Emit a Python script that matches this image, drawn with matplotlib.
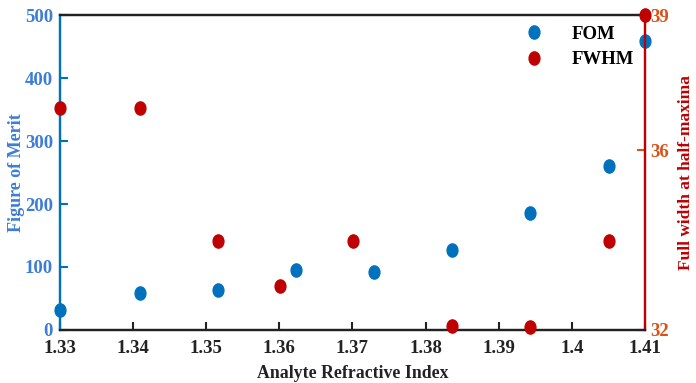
import numpy as np
import matplotlib
matplotlib.use('Agg')
import matplotlib.pyplot as plt
from matplotlib.markers import MarkerStyle
from matplotlib.transforms import Affine2D

# data
ri_fom = [1.33, 1.3409, 1.3516, 1.3623, 1.373, 1.3836, 1.3943, 1.4051, 1.41]
fom = [32, 58, 63, 95, 92, 127, 186, 260, 459]
ri_fwhm = [1.33, 1.3409, 1.3516, 1.3601, 1.3701, 1.3836, 1.3943, 1.4051, 1.41]
fwhm = [36.93, 36.93, 33.98, 32.98, 33.98, 32.08, 32.07, 33.98, 39]

xticks = [1.33, 1.34, 1.35, 1.36, 1.37, 1.38, 1.39, 1.4, 1.41]
xticklabels = ['1.33', '1.34', '1.35', '1.36', '1.37', '1.38', '1.39', '1.4', '1.41']
left_ticks = [0, 100, 200, 300, 400, 500]
right_ticks = [32, 36, 39]

blue = '#0072BD'
blue_lbl = '#3D7DD6'
red = '#C00000'
orange = '#D95319'

plt.rcParams['font.family'] = ['Liberation Serif', 'DejaVu Serif']
plt.rcParams['font.weight'] = 'bold'

fig = plt.figure(figsize=(6.96, 3.83), dpi=100)
ax1 = fig.add_axes([0.0862, 0.1384, 0.9267 - 0.0862, 0.9608 - 0.1384])
ax2 = ax1.twinx()

oval = MarkerStyle('o', transform=Affine2D().scale(0.82, 1.0))
h1, = ax1.plot(ri_fom, fom, linestyle='none', marker=oval, color=blue, ms=9.5,
               clip_on=False, zorder=3, label='FOM')
h2, = ax2.plot(ri_fwhm, fwhm, linestyle='none', marker=oval, color=red, ms=9.5,
               clip_on=False, zorder=3, label='FWHM')

ax1.set_xlim(1.33, 1.41)
ax1.set_ylim(0, 500)
ax2.set_ylim(32, 39)
ax1.set_xticks(xticks)
ax1.set_xticklabels(xticklabels)
ax1.set_yticks(left_ticks)
ax2.set_yticks(right_ticks)

ax1.tick_params(axis='x', direction='in', length=6, width=1.5, labelsize=13.5, colors='#222222', pad=7)
ax1.tick_params(axis='y', direction='in', length=6, width=1.5, labelsize=13.5, colors=blue, labelcolor=blue_lbl, pad=5)
ax2.tick_params(axis='y', direction='in', length=6, width=1.5, labelsize=13.5, colors=orange, labelcolor=orange, pad=4)

for ax in (ax1, ax2):
    ax.spines['top'].set_color('#222222')
    ax.spines['bottom'].set_color('#222222')
    for s in ax.spines.values():
        s.set_linewidth(1.6)
ax1.spines['left'].set_color(blue)
ax2.spines['left'].set_color(blue)
ax1.spines['right'].set_color(red)
ax2.spines['right'].set_color(red)

ax1.set_xlabel('Analyte Refractive Index', fontsize=12.8, fontweight='bold', color='#222222', labelpad=6)
ax1.set_ylabel('Figure of Merit', fontsize=13, fontweight='bold', color=blue_lbl, labelpad=0)
ax2.set_ylabel('Full width at half-maxima', fontsize=12.5, fontweight='bold', color=red, labelpad=6)

ax2.legend([h1, h2], ['FOM', 'FWHM'], loc='upper right', bbox_to_anchor=(1.01, 1.02),
           frameon=False, fontsize=13.5, handletextpad=1.0, labelspacing=0.45)

fig.savefig('out.png', dpi=100)
